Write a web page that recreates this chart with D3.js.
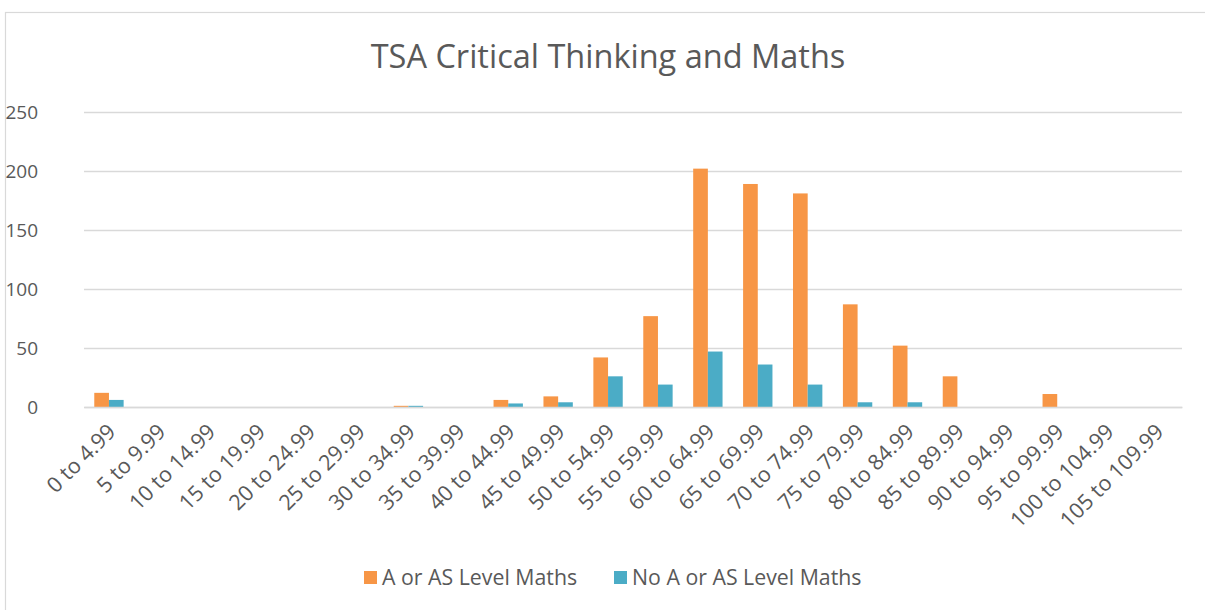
<!DOCTYPE html>
<html>
<head>
<meta charset="utf-8">
<script src="https://cdn.jsdelivr.net/npm/d3@7"></script>
<style>
  body { margin: 0; background: #fff; }
  svg { font-family: "Open Sans", "Noto Sans", sans-serif; }
</style>
</head>
<body>
<div id="chart"></div>
<script>
// score bands and counts
const bands = ["0 to 4.99", "5 to 9.99", "10 to 14.99", "15 to 19.99", "20 to 24.99",
  "25 to 29.99", "30 to 34.99", "35 to 39.99", "40 to 44.99", "45 to 49.99",
  "50 to 54.99", "55 to 59.99", "60 to 64.99", "65 to 69.99", "70 to 74.99",
  "75 to 79.99", "80 to 84.99", "85 to 89.99", "90 to 94.99", "95 to 99.99",
  "100 to 104.99", "105 to 109.99"];
const withMaths = [12, 0, 0, 0, 0, 0, 1, 0, 6, 9, 42, 77, 202, 189, 181, 87, 52, 26, 0, 11, 0, 0];
const noMaths = [6, 0, 0, 0, 0, 0, 1, 0, 3, 4, 26, 19, 47, 36, 19, 4, 4, 0, 0, 0, 0, 0];
const seriesNames = ["A or AS Level Maths", "No A or AS Level Maths"];
const yTicks = [0, 50, 100, 150, 200, 250];

const colors = ["#F79646", "#4BACC6"];
const width = 1205, height = 610;
const marginLeft = 84, marginRight = 23, marginTop = 112, plotBottom = 407;

const svg = d3.select("#chart")
  .append("svg")
    .attr("width", width)
    .attr("height", height);

// chart frame
svg.append("rect")
  .attr("x", 5.5).attr("y", 12.5)
  .attr("width", width + 10).attr("height", height + 10)
  .attr("fill", "none")
  .attr("stroke", "#D9D9D9")
  .attr("stroke-width", 1.2);

svg.append("text")
  .attr("x", 608)
  .attr("y", 68)
  .attr("text-anchor", "middle")
  .attr("font-size", 32.5)
  .attr("fill", "#595959")
  .text("TSA Critical Thinking and Maths");

const x = d3.scaleBand()
  .domain(bands)
  .range([marginLeft, width - marginRight]);

const xInner = d3.scaleBand()
  .domain([0, 1])
  .range([0, x.bandwidth()])
  .paddingOuter(0.7);

const y = d3.scaleLinear()
  .domain([0, 250])
  .range([plotBottom, marginTop]);

// gridlines + y labels
const yAxis = svg.append("g")
  .attr("transform", "translate(" + marginLeft + ",0)")
  .call(d3.axisLeft(y).tickValues(yTicks).tickSize(-(width - marginRight - marginLeft)));
yAxis.select(".domain").remove();
yAxis.selectAll(".tick line").attr("stroke", "#D9D9D9").attr("stroke-width", 1.5);
yAxis.selectAll(".tick text")
  .attr("font-size", 19)
  .attr("fill", "#595959")
  .attr("font-family", "Open Sans, sans-serif")
  .attr("text-anchor", "end")
  .attr("x", -46);

const rows = bands.map((b, i) => ({ band: b, vals: [withMaths[i], noMaths[i]] }));

svg.append("g")
  .selectAll("g")
  .data(rows)
  .enter().append("g")
    .attr("transform", d => "translate(" + x(d.band) + ",0)")
  .selectAll("rect")
  .data(d => d.vals.map((v, k) => ({ k: k, v: v })))
  .enter().append("rect")
    .attr("x", d => xInner(d.k))
    .attr("width", xInner.bandwidth())
    .attr("y", d => y(d.v))
    .attr("height", d => y(0) - y(d.v))
    .attr("fill", d => colors[d.k]);

// x axis labels
const xAxis = svg.append("g")
  .attr("transform", "translate(0," + plotBottom + ")")
  .call(d3.axisBottom(x).tickSize(0).tickPadding(0));
xAxis.select(".domain").attr("stroke", "#D9D9D9").attr("stroke-width", 1.5);
xAxis.selectAll(".tick text")
  .attr("font-size", 21.5)
  .attr("fill", "#595959")
  .attr("font-family", "Open Sans, sans-serif")
  .attr("text-anchor", "end")
  .attr("dy", 0)
  .attr("transform", "translate(8,26) rotate(-45)");

// legend
const legend = svg.append("g");
const legendX = [364, 614];
seriesNames.forEach((name, k) => {
  legend.append("rect")
    .attr("x", legendX[k]).attr("y", 571)
    .attr("width", 13).attr("height", 13)
    .attr("fill", colors[k]);
  legend.append("text")
    .attr("x", legendX[k] + 18).attr("y", 585)
    .attr("font-size", 21.3)
    .attr("fill", "#595959")
    .text(name);
});
</script>
</body>
</html>
